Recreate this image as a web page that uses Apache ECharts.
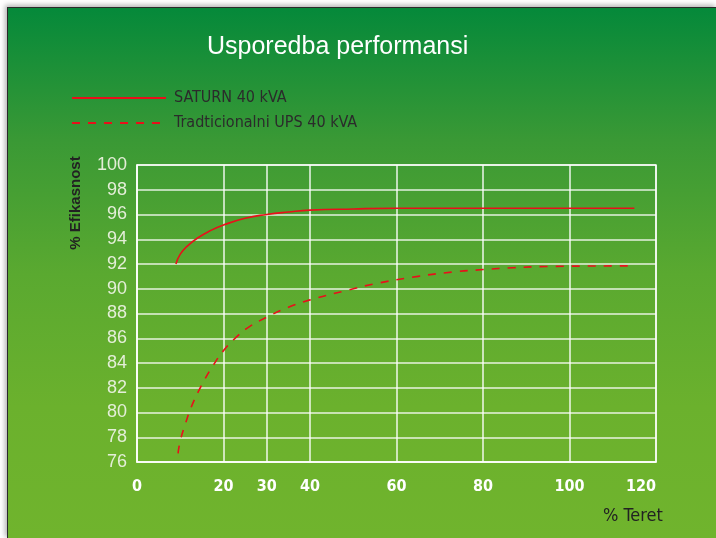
<!DOCTYPE html>
<html>
<head>
<meta charset="utf-8">
<script src="https://cdn.jsdelivr.net/npm/echarts@6/dist/echarts.min.js"></script>
<style>
  html, body { margin: 0; padding: 0; background: #fff; width: 716px; height: 538px; overflow: hidden; }
  #box {
    position: absolute; left: 7px; top: 7px; width: 709px; height: 531px;
    border-left: 1px solid #2a2a2a; border-top: 1px solid #2a2a2a;
    box-shadow: -2px -2px 5px rgba(0,0,0,0.3);
    background: linear-gradient(to bottom, #05893a 0%, #3a9935 25%, #5aa930 50%, #6bb12d 75%, #70b42d 100%);
  }
  #chart { position: absolute; left: 0; top: 0; width: 716px; height: 538px; }
</style>
</head>
<body>
<div id="box"></div>
<div id="chart"></div>
<script>
/* ---------- data ---------- */
var titleText = 'Usporedba performansi';
var seriesNames = ['SATURN 40 kVA', 'Tradticionalni UPS 40 kVA'];

// % Teret -> % Efikasnost
var saturnLoad = [9, 10, 11.5, 14, 17, 20, 25, 30, 35, 40, 50, 60, 80, 100, 115];
var saturnEff  = [92, 92.8, 93.4, 94.1, 94.7, 95.15, 95.7, 96.0, 96.2, 96.35, 96.45, 96.5, 96.5, 96.5, 96.5];

var upsLoad = [9.5, 10, 11.3, 12.5, 14.2, 15.7, 17.6, 20, 22.7, 25.4, 30, 35, 40, 47.7, 55, 65, 73, 80, 87, 95, 113.5];
var upsEff  = [76.7, 77.7, 79.2, 80.4, 81.7, 82.7, 83.8, 85.0, 86.0, 86.8, 87.7, 88.5, 89.1, 89.8, 90.4, 91.0, 91.35, 91.55, 91.7, 91.8, 91.85];

var xTicks = [0, 20, 30, 40, 60, 80, 100, 120];   // labelled / gridded x ticks
var yMin = 76, yMax = 100, yStep = 2;

function pairs(xs, ys) {
    return xs.map(function (x, i) { return [x, ys[i]]; });
}

/* ---------- chart ---------- */
var chart = echarts.init(document.getElementById('chart'), null, { renderer: 'canvas' });

// split line colours per 10-step tick: only xTicks get a white line
var vColors = [];
for (var v = 0; v <= 120; v += 10) {
    vColors.push(xTicks.indexOf(v) >= 0 ? 'rgba(255,255,255,0.9)' : 'rgba(0,0,0,0)');
}

var red = '#e8101a';
var narrow = "'Liberation Sans Narrow', 'DejaVu Sans Condensed', sans-serif";

var option = {
    backgroundColor: 'transparent',
    animation: false,
    title: {
        text: titleText,
        left: 202,
        top: 30,
        textStyle: { color: '#fff', fontSize: 25, fontWeight: 'normal', fontFamily: 'Liberation Sans, Arial, sans-serif' }
    },
    legend: {
        orient: 'vertical',
        left: 66,
        top: 84,
        itemWidth: 94,
        itemHeight: 14,
        itemGap: 7,
        data: seriesNames,
        itemStyle: { opacity: 0 },
        textStyle: { color: '#2b2b2b', fontSize: 16, fontFamily: narrow, lineHeight: 18, padding: [0, 0, 0, 3] }
    },
    grid: {
        left: 137, top: 165, right: 60, bottom: 76,
        show: true,
        borderColor: 'rgba(255,255,255,0.9)',
        borderWidth: 1.5
    },
    xAxis: {
        type: 'value',
        min: 0, max: 120, interval: 10,
        axisLine: { show: true, lineStyle: { color: 'rgba(255,255,255,0.9)', width: 1.5 } },
        axisTick: { show: false },
        axisLabel: {
            color: '#fff', fontSize: 16, fontWeight: 'bold', fontFamily: narrow,
            margin: 17, alignMaxLabel: 'right',
            formatter: function (val) { return xTicks.indexOf(val) >= 0 ? String(val) : ''; }
        },
        splitLine: { show: true, lineStyle: { color: vColors, width: 1.5 } }
    },
    yAxis: {
        type: 'value',
        min: yMin, max: yMax, interval: yStep,
        axisLine: { show: true, lineStyle: { color: 'rgba(255,255,255,0.9)', width: 1.5 } },
        axisTick: { show: false },
        axisLabel: { color: '#e4eed8', fontSize: 18, fontFamily: 'Liberation Sans, Arial, sans-serif', margin: 10 },
        splitLine: { show: true, lineStyle: { color: 'rgba(255,255,255,0.85)', width: 1.5 } }
    },
    graphic: [
        {
            type: 'text',
            x: 76, y: 203,
            rotation: Math.PI / 2,
            style: {
                text: '% Efikasnost', fill: '#222',
                font: 'bold 15px Liberation Sans, Arial, sans-serif',
                align: 'center', verticalAlign: 'middle'
            }
        },
        {
            type: 'text',
            x: 603, y: 516,
            style: {
                text: '% Teret', fill: '#222',
                font: '18px ' + narrow,
                align: 'left', verticalAlign: 'middle'
            }
        }
    ],
    series: [
        {
            name: seriesNames[0],
            type: 'line',
            smooth: 0.5,
            symbol: 'none',
            data: pairs(saturnLoad, saturnEff),
            lineStyle: { color: red, width: 1.6 },
            itemStyle: { color: red }
        },
        {
            name: seriesNames[1],
            type: 'line',
            smooth: 0.5,
            symbol: 'none',
            data: pairs(upsLoad, upsEff),
            lineStyle: { color: red, width: 1.6, type: [8, 8] },
            itemStyle: { color: red }
        }
    ]
};

chart.setOption(option);
</script>
</body>
</html>
